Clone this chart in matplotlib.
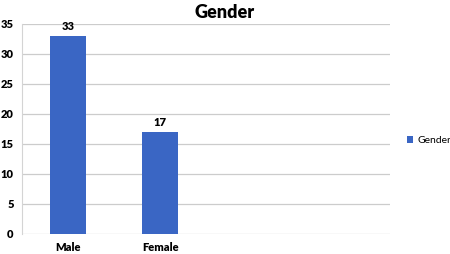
import numpy as np
from matplotlib import pyplot as plt

# data
categories = ['Male', 'Female', '', '']
values = [33, 17, np.nan, np.nan]
series_name = 'Gender'
yticks = [0, 5, 10, 15, 20, 25, 30, 35]

plt.rcParams['font.family'] = ['Lato', 'DejaVu Sans']

fig = plt.figure(figsize=(4.5, 2.54), dpi=100)
ax = fig.add_axes([0.049, 0.079, 0.818, 0.827])

x = np.arange(len(categories))
bars = ax.bar(x, values, width=0.39, color='#3A66C4', label=series_name, zorder=3)

for xi, v in zip(x, values):
    if not np.isnan(v):
        ax.annotate('%d' % v, (xi, v), xytext=(0, 3), textcoords='offset points',
                    ha='center', va='bottom', fontsize=8, fontweight='heavy')

ax.set_xlim(-0.5, len(categories) - 0.5)
ax.set_ylim(0, 35)
ax.set_yticks(yticks)
ax.set_xticks(x)
ax.set_xticklabels(categories, fontsize=8, fontweight='heavy')
for lbl in ax.get_yticklabels():
    lbl.set_fontsize(8)
    lbl.set_fontweight('heavy')
ax.tick_params(length=0, pad=6)
ax.grid(axis='y', color='#cccccc', lw=0.9, zorder=0)
for s in ['top', 'right', 'bottom']:
    ax.spines[s].set_visible(False)
ax.spines['left'].set_color('#d4d4d4')
ax.spines['left'].set_linewidth(0.8)

fig.text(0.5, 0.952, 'Gender', ha='center', va='center', fontsize=13, fontweight='heavy')

ax.legend(loc='center left', bbox_to_anchor=(1.02, 0.445), frameon=False, fontsize=7.5,
          handlelength=0.6, handleheight=0.6, handletextpad=0.4)

fig.savefig('out.png', dpi=100)
